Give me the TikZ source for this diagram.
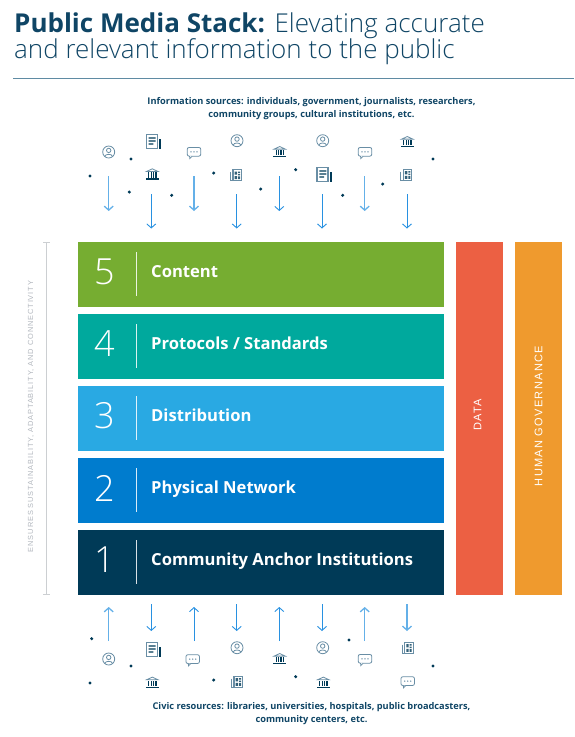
\documentclass[tikz,border=0pt]{standalone}
\usepackage{fontspec}
\setmainfont{Liberation Sans}
\newfontfamily\lightfont{Open Sans Light}
\newfontfamily\boldfont{Open Sans}[BoldFont={Open Sans Bold}]
\newfontfamily\spacedfont[LetterSpace=12]{Liberation Sans}
\usetikzlibrary{arrows.meta,positioning,calc}
\definecolor{navy}{RGB}{15,69,101}
\definecolor{deep}{RGB}{0,58,87}
\definecolor{slate}{RGB}{105,142,165}
\definecolor{rulecol}{RGB}{95,139,163}
\definecolor{bracket}{RGB}{204,207,210}
\definecolor{sidetext}{RGB}{178,183,190}
\definecolor{skyarrow}{RGB}{100,176,232}
\definecolor{bluearrow}{RGB}{40,145,225}
\definecolor{leaf}{RGB}{118,173,49}
\definecolor{teal}{RGB}{0,169,157}
\definecolor{sky}{RGB}{41,169,227}
\definecolor{azure}{RGB}{0,124,206}
\definecolor{coral}{RGB}{236,96,67}
\definecolor{amber}{RGB}{239,154,46}
\tikzset{
  layer/.style={minimum width=366pt,minimum height=65pt,inner sep=0pt,anchor=north west},
  sidebar/.style={minimum width=47pt,minimum height=353pt,inner sep=0pt,anchor=north west},
  num/.style={font=\lightfont\fontsize{36}{36}\selectfont,white},
  lbl/.style={font=\boldfont\bfseries\fontsize{16.6}{18}\selectfont,white,anchor=base west,inner sep=0pt},
  src/.style={font=\boldfont\bfseries\fontsize{9.25}{13}\selectfont,text=navy,align=center,inner sep=0pt},
  vert/.style={font=\spacedfont\fontsize{11}{12}\selectfont,white,rotate=90,inner sep=0pt},
  dot/.style={circle,fill=deep,inner sep=0pt,minimum size=3.4pt},
  thin arr/.style={draw=bluearrow,line width=0.9pt,-{Straight Barb[length=4pt,width=9pt]}},
  thick arr/.style={draw=skyarrow,line width=1.3pt,-{Straight Barb[length=4pt,width=9pt]}},
  icon/.style={draw=slate,line width=0.8pt,fill=none},
  person/.pic={
    \draw[icon] (0,0) circle (6pt);
    \draw[icon] (0,-1.6) circle (2.2pt);
    \draw[icon] (-3.8,4.4) .. controls (-3.4,1.6) and (3.4,1.6) .. (3.8,4.4);},
  news/.pic={
    \draw[icon,line width=1.1pt] (-7,-7) rectangle (4,6.5);
    \fill[deep] (-4.6,-4.4) rectangle (2.4,-3) (-4.6,-1.4) rectangle (2.4,0) (-4.6,1.6) rectangle (0,3);
    \draw[deep,line width=1.4pt] (6.8,-2.5) -- (6.8,7);},
  bank/.pic={
    \fill[deep] (-6.5,4.4) rectangle (6.5,5.6);
    \draw[icon] (-5.6,-2.6) .. controls (-3,-2.8) and (-2,-5.2) .. (0,-5.2) .. controls (2,-5.2) and (3,-2.8) .. (5.6,-2.6) -- cycle;
    \foreach \k in {-3.6,-1.2,1.2,3.6}{\fill[deep] (\k-0.6,-1.6) rectangle (\k+0.6,3.6);}},
  chat/.pic={
    \draw[icon,rounded corners=2pt] (-6.8,-4.6) rectangle (6.8,4.2);
    \draw[icon,fill=white] (-4.4,4.2) -- (-4.2,6.6) -- (-1.8,4.2);
    \foreach \k in {-3,0,3}{\fill[slate] (\k,-0.2) circle (0.8pt);}},
  paper/.pic={
    \draw[icon,line width=1.1pt] (-3,-5.5) rectangle (5.5,5.5);
    \draw[icon,line width=1.1pt] (-5.5,-3.5) -- (-5.5,5.5) -- (-3,5.5);
    \fill[deep!80] (-1.4,-3.8) rectangle (1,-0.6) (2,-3.8) rectangle (4,-2.4) (2,-1.4) rectangle (4,0) (-1.4,0.8) rectangle (1,3.8) (2,1) rectangle (4,3.8);},
}
\begin{document}
\begin{tikzpicture}[x=1pt,y=-1pt]
  \useasboundingbox (0,0) rectangle (574,737);
  \node[font=\fontsize{26}{28}\selectfont,text=navy,anchor=base west,inner sep=0pt] (title1) at (14,32) {{\boldfont\bfseries Public Media Stack:} \lightfont Elevating accurate};
  \node[font=\lightfont\fontsize{26}{28}\selectfont,text=navy,anchor=base west,inner sep=0pt] (title2) at (14,58) {and relevant information to the public};
  \draw[rulecol,line width=0.9pt] (13,78) -- (574,78);
  \node[src] (sources) at (311.5,108.5) {Information sources: individuals, government, journalists, researchers,\\community groups, cultural institutions, etc.};
  \node[src] (civic) at (311.5,713.5) {Civic resources: libraries, universities, hospitals, public broadcasters,\\community centers, etc.};
  % the stack
  \foreach \n/\y/\c/\t in {5/242/leaf/{Content}, 4/314/teal/{Protocols / Standards}, 3/386/sky/{Distribution}, 2/458/azure/{Physical Network}, 1/530/deep/{Community Anchor Institutions}}{
    \node[layer,fill=\c] (layer\n) at (78,\y) {};
    \node[num] (num\n) at (104.5,\y+30) {\n};
    \draw[white!85!\c,line width=0.8pt] (136.5,\y+10) -- (136.5,\y+54);
    \node[lbl] (lbl\n) at (151,\y+35) {\t};}
  \node[sidebar,fill=coral] (data) at (456,242) {};
  \node[sidebar,fill=amber] (gov) at (515,242) {};
  \node[vert] (datatext) at (477.5,415) {DATA};
  \node[vert] (govtext) at (538.5,416) {HUMAN GOVERNANCE};
  % left bracket
  \draw[bracket,line width=0.8pt] (43,242) -- (50,242) (46.5,242) -- (46.5,594) (43,594) -- (50,594);
  \node[font=\spacedfont\fontsize{7.4}{8}\selectfont,text=sidetext,rotate=90,inner sep=0pt] (ensures) at (31,416.5) {ENSURES SUSTAINABILITY, ADAPTABILITY, AND CONNECTIVITY};
  % arrows above
  \foreach \x/\a/\b/\s in {108.7/176/211/thick arr, 151.3/194/228.5/thin arr, 194/176/211/thick arr, 236.7/194/228.5/thin arr, 279.3/176/211/thin arr, 322/194/228.5/thin arr, 364.7/176/211/thick arr, 407/194/228.5/thin arr}{
    \coordinate (from) at (\x,\a); \coordinate (to) at (\x,\b);
    \draw[\s] (from) -- (to);}
  % arrows below
  \foreach \x/\a/\b/\s in {108.7/641/607/thick arr, 151.3/604/631/thin arr, 194/641/607/thin arr, 236.7/604/631/thin arr, 279.3/641/607/thin arr, 322/604/631/thin arr, 364.7/641/607/thick arr, 407/604/631/thick arr}{
    \coordinate (from) at (\x,\a); \coordinate (to) at (\x,\b);
    \draw[\s] (from) -- (to);}
  % icons
  \foreach \x/\y/\k in {108.7/152/person, 153.3/141.7/news, 152.3/174/bank, 194/152/chat, 237/140.7/person, 236/175.3/paper, 279.7/151.7/bank, 322.7/140.7/person, 324/174.7/news, 365/152/chat, 407.3/141.7/bank, 406.3/175/paper,
                        108.7/659/person, 153.3/649.7/news, 152.3/682.3/bank, 192.7/659.3/chat, 237/647.7/person, 237/682/paper, 279.7/658.7/bank, 322.7/647.7/person, 323.3/682.3/bank, 365/659/chat, 407.7/648/paper, 407.7/681.3/chat}{
    \pic at (\x,\y) {\k};}
  % dots
  \foreach \x/\y in {131/159, 90/176, 129.3/192, 171.7/195.3, 213.7/173, 260.7/189, 295.7/169.7, 342.7/195.3, 382.7/184, 433/159,
                     91.7/638.7, 131/666, 90/683, 213.7/680, 295.7/676.7, 349/640, 433/666}{
    \node[dot] at (\x,\y) {};}
\end{tikzpicture}
\end{document}
